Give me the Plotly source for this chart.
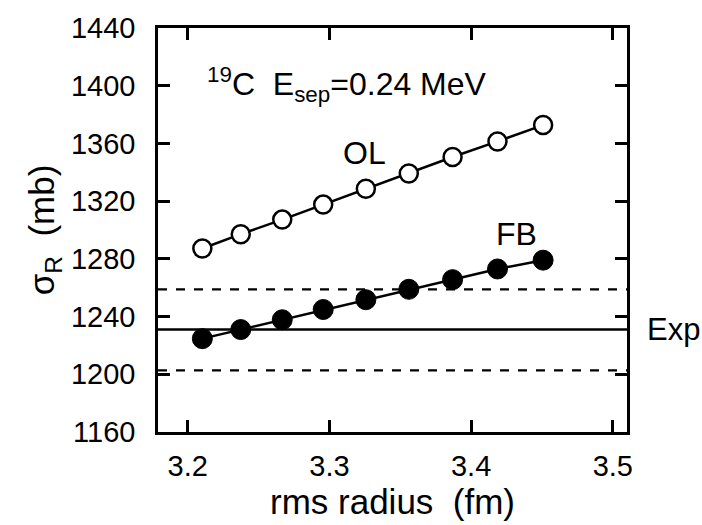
import plotly.graph_objects as go

radius = [3.2103, 3.2374, 3.2667, 3.2956, 3.3257, 3.356, 3.3869, 3.4186, 3.4508]
sigma_ol = [1287.2, 1297.1, 1307.2, 1317.6, 1328.6, 1339.2, 1350.6, 1361.4, 1372.7]
sigma_fb = [1224.7, 1231.0, 1237.8, 1244.9, 1251.7, 1258.9, 1265.6, 1273.0, 1279.1]
exp_value = 1231.0
exp_upper = 1258.9
exp_lower = 1202.7
x_range = [3.179, 3.51]
y_range = [1160, 1440]
x_ticks = [3.2, 3.3, 3.4, 3.5]
y_ticks = [1160, 1200, 1240, 1280, 1320, 1360, 1400, 1440]

FONT = "Liberation Sans, Arial, Helvetica, sans-serif"

fig = go.Figure()

fig.add_trace(go.Scatter(x=x_range, y=[exp_upper, exp_upper], mode="lines",
                         line=dict(color="black", width=2.2, dash="dash"), showlegend=False))
fig.add_trace(go.Scatter(x=x_range, y=[exp_lower, exp_lower], mode="lines",
                         line=dict(color="black", width=2.2, dash="dash"), showlegend=False))
fig.add_trace(go.Scatter(x=x_range, y=[exp_value, exp_value], mode="lines",
                         line=dict(color="black", width=2.5), showlegend=False))

fig.add_trace(go.Scatter(x=radius, y=sigma_ol, mode="lines+markers",
                         line=dict(color="black", width=2.5),
                         marker=dict(symbol="circle", size=18, color="white",
                                     line=dict(color="black", width=2.5)),
                         showlegend=False))
fig.add_trace(go.Scatter(x=radius, y=sigma_fb, mode="lines+markers",
                         line=dict(color="black", width=2.5),
                         marker=dict(symbol="circle", size=20, color="black",
                                     line=dict(color="black", width=1)),
                         showlegend=False))

ann_font = dict(family=FONT, size=32, color="black")
fig.add_annotation(x=3.2122, y=1401, xref="x", yref="y", xanchor="left", yanchor="middle",
                   text="<sup>19</sup>C  E<sub>sep</sub>=0.24 MeV", showarrow=False, font=ann_font)
fig.add_annotation(x=3.325, y=1353.3, text="OL", showarrow=False, font=ann_font)
fig.add_annotation(x=3.4322, y=1297.3, text="FB", showarrow=False, font=ann_font)
fig.add_annotation(x=1.038, xref="paper", y=exp_value, yref="y", xanchor="left",
                   text="Exp", showarrow=False, font=dict(family=FONT, size=31, color="black"))

fig.update_xaxes(range=x_range, tickvals=x_ticks, ticktext=[f"{v:.1f}" for v in x_ticks],
                 ticks="inside", ticklen=12, tickwidth=2.5, tickcolor="black",
                 showline=True, linecolor="black", linewidth=2.5, mirror="ticks",
                 showgrid=False, zeroline=False, ticklabelstandoff=6,
                 tickfont=dict(family=FONT, size=29, color="black"),
                 title=dict(text="rms radius  (fm)", font=dict(family=FONT, size=35, color="black"),
                            standoff=3))
fig.update_yaxes(range=y_range, tickvals=y_ticks,
                 ticks="inside", ticklen=12, tickwidth=2.5, tickcolor="black",
                 showline=True, linecolor="black", linewidth=2.5, mirror="ticks",
                 showgrid=False, zeroline=False, ticklabelstandoff=14,
                 tickfont=dict(family=FONT, size=29, color="black"),
                 title=dict(text="σ<sub>R</sub>  (mb)", font=dict(family=FONT, size=35, color="black"),
                            standoff=6))

fig.update_layout(width=702, height=525, plot_bgcolor="white", paper_bgcolor="white",
                  margin=dict(l=158, r=75, t=17, b=93), font=dict(family=FONT, color="black"))

fig.write_html("out.html")
